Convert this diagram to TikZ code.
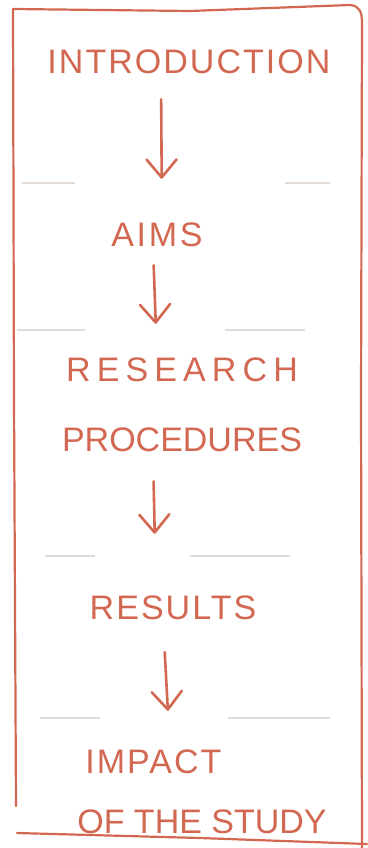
\documentclass[tikz,border=0pt]{standalone}
\usepackage{fontspec}
\setmainfont{Liberation Sans}
\usepackage{xcolor}
\usetikzlibrary{arrows.meta}
\definecolor{pencil}{RGB}{210,104,82}
\definecolor{faint}{RGB}{226,218,212}

\begin{document}
\begin{tikzpicture}[x=1pt, y=-1pt,
    stagetext/.style={inner sep=0pt, text=pencil, font=\fontsize{34}{70}\selectfont},
    flow/.style={pencil, line width=2.6pt, line cap=round, -{Straight Barb[length=18pt,width=30pt,round]}},
    border/.style={pencil, line width=2.2pt, line cap=round, line join=round},
    ruling/.style={faint, line width=1.4pt}]
  \useasboundingbox (0,0) rectangle (367,848);

  % frame
  \draw[border] (16,806) -- (14,400) -- (13,9) -- (190,11) -- (350,5) .. controls (360,6) and (362,12) .. (362,24) -- (361,400) -- (362,848);
  \draw[border] (17,833) -- (200,838) -- (367,844);

  % faint rulings
  \foreach \y/\a/\b/\c/\d in {183/22/75/285/330, 330/17/85/225/305, 556/45/95/190/290, 718/40/100/228/330} {
    \draw[ruling] (\a,\y) -- (\b,\y);
    \draw[ruling] (\c,\y) -- (\d,\y);
  }

  % steps
  \node[stagetext] (intro) at (189,62) {\addfontfeatures{LetterSpace=6}INTRODUCTION};
  \node[stagetext] (aims) at (157,235) {\addfontfeatures{LetterSpace=8}AIMS};
  \node[stagetext, align=center] (research) at (182,405) {{\addfontfeatures{LetterSpace=18}RESEARCH}\\PROCEDURES};
  \node[stagetext] (results) at (173,608) {\addfontfeatures{LetterSpace=6}RESULTS};
  \node[stagetext, align=left, font=\fontsize{34}{60}\selectfont] (impact) at (202,792) {\hspace{8pt}{\addfontfeatures{LetterSpace=6}IMPACT}\\OF THE STUDY};

  % arrows
  \draw[flow, shorten <=25pt, shorten >=44pt] ([xshift=-28pt]intro.south) -- ([xshift=5pt]aims.north);
  \draw[flow, shorten <=18pt, shorten >=34pt] ([xshift=-4pt]aims.south) -- ([xshift=-25pt]research.north);
  \draw[flow, shorten <=29pt, shorten >=62pt] ([xshift=-29pt]research.south) -- ([xshift=-17pt]results.north);
  \draw[flow, shorten <=32pt, shorten >=39pt] ([xshift=-10pt]results.south) -- ([xshift=-32pt]impact.north);
\end{tikzpicture}
\end{document}
